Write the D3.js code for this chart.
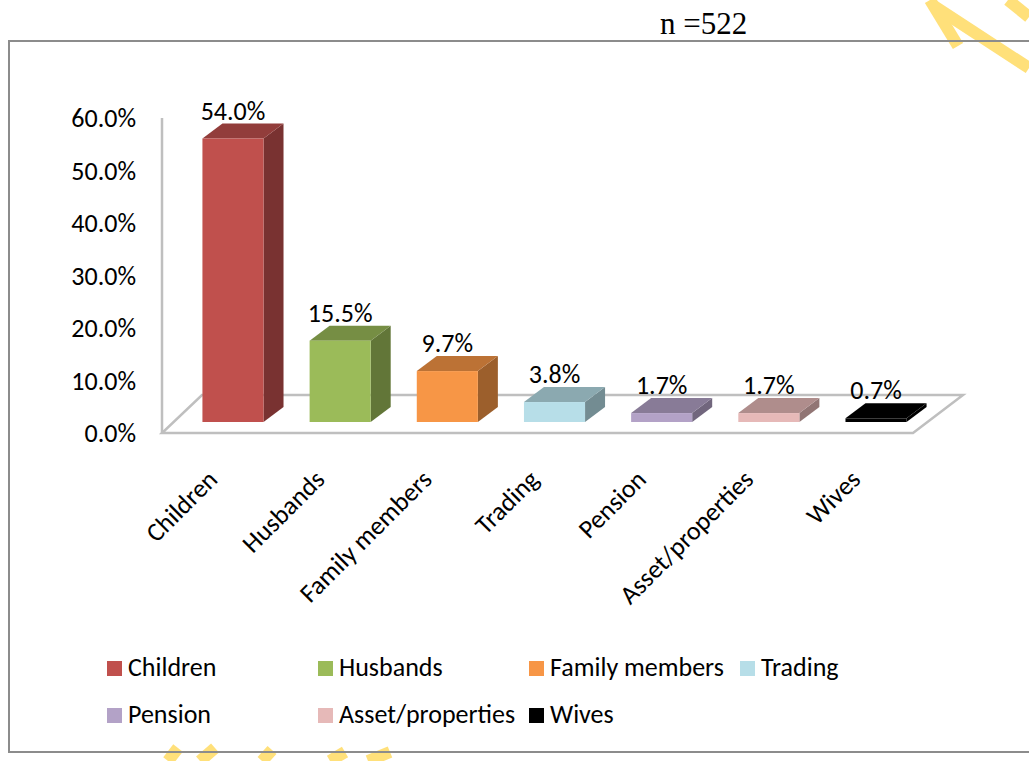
<!DOCTYPE html>
<html lang="en">
<head>
<meta charset="utf-8">
<title>Support sources</title>
<script src="https://d3js.org/d3.v7.min.js"></script>
<style>
    html, body { margin:0; padding:0; background:#fff; }
    svg { display:block; }
    .lbl { font-family: Carlito, Lato, sans-serif; font-size:26px; fill:#000; }
</style>
</head>
<body>
<svg width="1029" height="761"></svg>
<script>
    // data
    var categories = ["Children", "Husbands", "Family members", "Trading", "Pension", "Asset/properties", "Wives"];
    var values = [54.0, 15.5, 9.7, 3.8, 1.7, 1.7, 0.7];
    var colors = ["#C0504D", "#9BBB59", "#F79646", "#B7DEE8", "#B3A2C7", "#E6B9B8", "#000000"];
    var yTicks = [0, 10, 20, 30, 40, 50, 60];
    var sampleSize = "n =522";

    var svg = d3.select("svg");

    // watermark fragments (yellow)
    var wm = svg.append("g").attr("fill", "none").attr("stroke", "#FFE07A")
        .attr("stroke-width", 12).attr("stroke-linecap", "butt");
    ["M930,0 L958,46", "M934,6 L1029,68", "M1008,0 L1029,17",
     "M168,761 L178,748", "M200,761 L215,748", "M262,761 L272,750", "M330,761 L345,752", "M368,761 L390,752"]
        .forEach(function(d) { wm.append("path").attr("d", d); });

    // outer frame
    svg.append("rect")
        .attr("x", 9).attr("y", 41).attr("width", 1030).attr("height", 711)
        .attr("fill", "none").attr("stroke", "#8C8C8C").attr("stroke-width", 2);

    svg.append("text")
        .attr("x", 660).attr("y", 34)
        .style("font-family", "'Liberation Serif', 'Times New Roman', serif")
        .style("font-size", "31px")
        .text(sampleSize);

    // scales (front plane of the 3D box)
    var y = d3.scaleLinear().domain([0, 60]).range([433, 118]);
    var x = d3.scaleBand().domain(categories).range([170, 917])
        .paddingInner(0.43).paddingOuter(0.2);

    var floorL = 162, floorR = 913, depthX = 40, depthY = -38;
    var baseX = 11, baseY = -11;   // bar offset into the floor
    var barDX = 20, barDY = -15;   // bar depth

    // floor
    svg.append("path")
        .attr("d", "M" + floorL + "," + y(0) + " L" + floorR + "," + y(0) +
            " L" + (floorR + depthX + 10) + "," + (y(0) + depthY) +
            " L" + (floorL + depthX) + "," + (y(0) + depthY) + " Z")
        .attr("fill", "#fff").attr("stroke", "#BFBFBF").attr("stroke-width", 2.5);

    // vertical axis line
    svg.append("line")
        .attr("x1", floorL).attr("x2", floorL)
        .attr("y1", y(60)).attr("y2", y(0))
        .attr("stroke", "#BFBFBF").attr("stroke-width", 2.5);

    // y tick labels
    svg.append("g").selectAll("text").data(yTicks).join("text")
        .attr("class", "lbl")
        .attr("x", 136).attr("y", function(d) { return y(d) + 3; })
        .attr("text-anchor", "end").attr("dominant-baseline", "middle")
        .text(function(d) { return d.toFixed(1) + "%"; });

    function shade(c, k) {
        var r = d3.rgb(c);
        return d3.rgb(r.r * k, r.g * k, r.b * k).formatHex();
    }

    var bars = svg.append("g").selectAll("g").data(categories).join("g");
    bars.each(function(c, i) {
        var g = d3.select(this);
        var x0 = x(c) + baseX, x1 = x0 + x.bandwidth();
        var yb = y(0) + baseY, yt = y(values[i]) + baseY;
        var col = colors[i];
        // side
        g.append("path")
            .attr("d", "M" + x1 + "," + yt + " L" + (x1 + barDX) + "," + (yt + barDY) +
                " L" + (x1 + barDX) + "," + (yb + barDY) + " L" + x1 + "," + yb + " Z")
            .attr("fill", shade(col, 0.63));
        // top
        g.append("path")
            .attr("d", "M" + x0 + "," + yt + " L" + x1 + "," + yt +
                " L" + (x1 + barDX) + "," + (yt + barDY) + " L" + (x0 + barDX) + "," + (yt + barDY) + " Z")
            .attr("fill", shade(col, 0.76));
        // front
        g.append("rect")
            .attr("x", x0).attr("y", yt)
            .attr("width", x.bandwidth()).attr("height", yb - yt)
            .attr("fill", col);
        // value label
        g.append("text").attr("class", "lbl")
            .attr("x", x0 + x.bandwidth() / 2)
            .attr("y", y(values[i]) - 30)
            .attr("text-anchor", "middle")
            .text(values[i].toFixed(1) + "%");
    });

    // category labels
    svg.append("g").selectAll("text").data(categories).join("text")
        .attr("class", "lbl")
        .attr("text-anchor", "end")
        .attr("transform", function(c) {
            return "translate(" + (x(c) + baseX + x.bandwidth() / 2 - 14) + "," + (y(0) + 48) + ") rotate(-45)";
        })
        .text(function(c) { return c; });

    // legend
    var legend = svg.append("g").selectAll("g").data(categories).join("g")
        .attr("transform", function(c, i) {
            return "translate(" + (107 + (i % 4) * 211) + "," + (661 + Math.floor(i / 4) * 47) + ")";
        });
    legend.append("rect").attr("width", 15).attr("height", 15)
        .attr("fill", function(c, i) { return colors[i]; });
    legend.append("text").attr("class", "lbl")
        .attr("x", 21).attr("y", 15)
        .text(function(c) { return c; });
</script>
</body>
</html>
